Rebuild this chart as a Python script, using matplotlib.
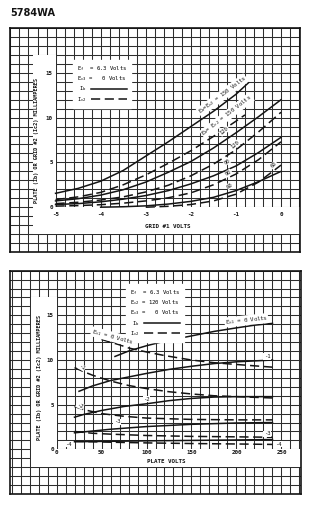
import matplotlib.pyplot as plt
from matplotlib.patches import Polygon
from matplotlib.ticker import MultipleLocator

plt.rcParams['font.family'] = 'DejaVu Sans Mono'
plt.rcParams['mathtext.default'] = 'regular'
plt.rcParams['axes.unicode_minus'] = False

INK = '#141414'
GRIDC = '#2e2e2e'
DASH = (0, (6, 3))

# ---- top chart: plate / screen current vs grid #1 volts ----
g1 = [-5, -4.5, -4, -3.5, -3, -2.5, -2, -1.5, -1, -0.5, 0]
ib150_x = [-5, -4.5, -4, -3.5, -3, -2.5, -2, -1.5, -1, -0.72]
ib150 = [1.55, 2.1, 2.9, 4.1, 5.7, 7.3, 9.0, 10.7, 12.6, 13.9]
ic150_x = [-5, -4.5, -4, -3.5, -3, -2.5, -2, -1.5, -1, -0.8]
ic150 = [0.85, 1.15, 1.65, 2.5, 3.6, 4.9, 6.3, 7.9, 9.6, 10.3]
ib120 = [0.7, 0.95, 1.35, 1.95, 2.8, 3.9, 5.1, 6.6, 8.3, 10.1, 12.0]
ic120 = [0.4, 0.55, 0.8, 1.15, 1.7, 2.45, 3.5, 4.8, 6.4, 8.4, 10.6]
ib90 = [0.3, 0.4, 0.6, 0.9, 1.3, 1.85, 2.6, 3.5, 4.6, 6.1, 7.8]
ic90 = [0.12, 0.18, 0.28, 0.45, 0.7, 1.05, 1.6, 2.5, 3.7, 5.3, 7.3]
ib60_x = [-4, -3.5, -3, -2.5, -2, -1.5, -1, -0.5, 0]
ib60 = [0.0, 0.05, 0.15, 0.35, 0.65, 1.1, 1.85, 2.85, 4.0]
ic60_x = [-3, -2.5, -2, -1.5, -1, -0.5, 0]
ic60 = [0.0, 0.1, 0.3, 0.7, 1.45, 2.8, 4.7]

top_labels = [(-1.30, 12.5, 'E$_b$=E$_{c2}$ = 150 Volts', 37),
              (-1.20, 10.2, 'E$_b$= E$_{c2}$ = 150 Volts', 38),
              (-1.26, 8.5, '120', 40), (-1.02, 6.95, '120', 40),
              (-1.20, 5.1, '90', 35), (-1.17, 3.8, '90', 35),
              (-1.13, 2.4, '60', 30), (-0.16, 4.7, '60', 45)]

# ---- bottom chart: plate / screen current vs plate volts ----
ib0_v = [65, 80, 100, 120, 150, 175, 200, 220, 240]
ib0 = [10.4, 11.0, 11.6, 12.1, 12.7, 13.2, 13.6, 13.9, 14.1]
ic0_v = [50, 60, 70, 80, 100, 120, 150, 175, 200, 220, 240]
ic0 = [12.3, 12.0, 11.7, 11.35, 10.9, 10.5, 10.0, 9.7, 9.5, 9.35, 9.2]
ib1_v = [25, 40, 60, 80, 100, 125, 150, 175, 200, 240]
ib1 = [6.5, 7.1, 7.7, 8.1, 8.5, 8.95, 9.3, 9.6, 9.8, 10.0]
ic1_v = [20, 30, 40, 60, 80, 100, 125, 150, 175, 200, 240]
ic1 = [9.15, 8.7, 8.3, 7.65, 7.15, 6.8, 6.45, 6.2, 6.0, 5.9, 5.75]
ib2_v = [20, 30, 50, 75, 100, 125, 150, 175, 200, 240]
ib2 = [3.6, 3.9, 4.35, 4.8, 5.1, 5.45, 5.7, 5.85, 5.9, 5.9]
ic2_v = [20, 30, 50, 75, 100, 150, 200, 240]
ic2 = [4.8, 4.45, 4.0, 3.7, 3.5, 3.35, 3.3, 3.3]
ib3_v = [20, 40, 60, 100, 150, 200, 240]
ib3 = [1.85, 2.05, 2.25, 2.55, 2.8, 2.95, 3.0]
ic3_v = [20, 40, 60, 100, 150, 200, 240]
ic3 = [2.0, 1.8, 1.7, 1.55, 1.45, 1.4, 1.35]
ib4_v = [20, 100, 150, 200, 240]
ib4 = [0.85, 0.95, 1.0, 1.05, 1.1]
ic4_v = [20, 60, 100, 150, 200, 240]
ic4 = [0.9, 0.8, 0.72, 0.65, 0.6, 0.55]

bot_labels = [(211, 14.45, 'E$_{c1}$ = 0 Volts', 6),
              (62, 12.6, 'E$_{c1}$ = 0 Volts', -15),
              (234, 10.4, '-1', 0), (28, 9.2, '-1', -30),
              (100, 5.6, '-2', 0), (26, 4.9, '-2', -25),
              (67, 3.1, '-3', 0), (234, 1.75, '-3', 0),
              (13, 0.55, '-4', 0), (247, 0.55, '-4', 0)]


def paper(rect, xlim, xstep, white):
    bg = fig.add_axes(rect)
    bg.set_xlim(xlim)
    bg.set_ylim(-5, 20)
    bg.xaxis.set_major_locator(MultipleLocator(xstep))
    bg.yaxis.set_major_locator(MultipleLocator(1))
    bg.grid(True, color=GRIDC, lw=0.75)
    bg.tick_params(length=0, labelbottom=False, labelleft=False)
    for s in bg.spines.values():
        s.set_linewidth(1.2)
        s.set_color(INK)
    bg.add_patch(Polygon(white, closed=True, fc='white', ec='none', zorder=2))
    ax = fig.add_axes(rect)
    ax.set_xlim(xlim)
    ax.set_ylim(-5, 20)
    ax.patch.set_visible(False)
    for s in ax.spines.values():
        s.set_visible(False)
    return ax


def labels(ax, items):
    for x, y, s, ang in items:
        ax.text(x, y, s, rotation=ang, rotation_mode='anchor', ha='center',
                va='center', fontsize=4, color=INK, zorder=6,
                bbox=dict(fc='white', ec='none', pad=0.4))


fig = plt.figure(figsize=(3.3, 5.12), dpi=100)
fig.text(10 / 330, 1 - 13 / 512, '5784WA', fontsize=7, fontweight='bold',
         family='DejaVu Sans', va='center', ha='left', color=INK)

# top chart
xl = (-6.01, 0.42)
ax1 = paper([10 / 330, 260 / 512, 290 / 330, 224 / 512], xl, 0.2,
            [(-5.5, 17), (-5, 17), (-5, 0), (xl[1], 0), (xl[1], -3), (-5.5, -3)])
kw = dict(color=INK, lw=1.1, zorder=4)
h_ib, = ax1.plot(ib150_x, ib150, **kw)
h_ic, = ax1.plot(ic150_x, ic150, ls=DASH, **kw)
ax1.plot(g1, ib120, **kw)
ax1.plot(g1, ic120, ls=DASH, **kw)
ax1.plot(g1, ib90, **kw)
ax1.plot(g1, ic90, ls=DASH, **kw)
ax1.plot(ib60_x, ib60, **kw)
ax1.plot(ic60_x, ic60, ls=DASH, **kw)
labels(ax1, top_labels)

ax1.spines['left'].set_position(('data', -5))
ax1.spines['bottom'].set_position(('data', 0))
ax1.set_xticks([-5, -4, -3, -2, -1, 0])
ax1.set_yticks([0, 5, 10, 15])
ax1.tick_params(axis='x', length=0, pad=3.2, labelsize=4.2, labelcolor=INK)
ax1.tick_params(axis='y', length=0, pad=2.0, labelsize=4.2, labelcolor=INK)
for t in ax1.get_xticklabels() + ax1.get_yticklabels():
    t.set_fontweight('bold')
ax1.set_xlabel('GRID #1 VOLTS', fontsize=4.2, fontweight='bold', va='center', color=INK)
ax1.xaxis.set_label_coords(0.545, 0.116)
ax1.set_ylabel('PLATE (Ib) OR GRID #2 (Ic2) MILLIAMPERES', fontsize=3.8,
               fontweight='bold', va='center', color=INK)
ax1.yaxis.set_label_coords(0.093, 0.496)
ax1.legend([h_ib, h_ic], ['I$_b$', 'I$_{c2}$'],
           title='E$_f$  = 6.3 Volts\nE$_{c3}$ =   0 Volts', alignment='left',
           markerfirst=False, loc='upper left', bbox_to_anchor=(0.218, 0.857),
           fancybox=False, framealpha=1, edgecolor='white',
           prop={'family': 'DejaVu Sans Mono', 'size': 4},
           title_fontproperties={'family': 'DejaVu Sans Mono', 'size': 4},
           handlelength=6.5, borderpad=0.7, labelspacing=0.3,
           handletextpad=0.8, borderaxespad=0)

# bottom chart
xl = (-51.7, 271.7)
ax2 = paper([10 / 330, 18 / 512, 291 / 330, 223.3 / 512], xl, 10,
            [(-28, 17), (0, 17), (0, 0), (xl[1], 0), (xl[1], -2), (-28, -2)])
g_ib, = ax2.plot(ib0_v, ib0, **kw)
g_ic, = ax2.plot(ic0_v, ic0, ls=DASH, **kw)
ax2.plot(ib1_v, ib1, **kw)
ax2.plot(ic1_v, ic1, ls=DASH, **kw)
ax2.plot(ib2_v, ib2, **kw)
ax2.plot(ic2_v, ic2, ls=DASH, **kw)
ax2.plot(ib3_v, ib3, **kw)
ax2.plot(ic3_v, ic3, ls=DASH, **kw)
ax2.plot(ib4_v, ib4, **kw)
ax2.plot(ic4_v, ic4, ls=DASH, **kw)
labels(ax2, bot_labels)

ax2.spines['left'].set_position(('data', 0))
ax2.spines['bottom'].set_position(('data', 0))
ax2.set_xticks([0, 50, 100, 150, 200, 250])
ax2.set_yticks([0, 5, 10, 15])
ax2.tick_params(axis='x', length=0, pad=0.8, labelsize=4.2, labelcolor=INK)
ax2.tick_params(axis='y', length=0, pad=2.0, labelsize=4.2, labelcolor=INK)
for t in ax2.get_xticklabels() + ax2.get_yticklabels():
    t.set_fontweight('bold')
ax2.set_xlabel('PLATE VOLTS', fontsize=4.2, fontweight='bold', va='center', color=INK)
ax2.xaxis.set_label_coords(0.538, 0.145)
ax2.set_ylabel('PLATE (Ib) OR GRID #2 (Ic2) MILLIAMPERES', fontsize=3.8,
               fontweight='bold', va='center', color=INK)
ax2.yaxis.set_label_coords(0.0997, 0.52)
ax2.legend([g_ib, g_ic], ['I$_b$', 'I$_{c2}$'],
           title='E$_f$  = 6.3 Volts\nE$_{c2}$ = 120 Volts\nE$_{c3}$ =   0 Volts',
           alignment='left', markerfirst=False, loc='upper left',
           bbox_to_anchor=(0.399, 0.94), fancybox=False, framealpha=1,
           edgecolor='white',
           prop={'family': 'DejaVu Sans Mono', 'size': 4},
           title_fontproperties={'family': 'DejaVu Sans Mono', 'size': 4},
           handlelength=6.5, borderpad=0.7, labelspacing=0.3,
           handletextpad=0.8, borderaxespad=0)

fig.savefig('out.png', dpi=100, facecolor='white')
